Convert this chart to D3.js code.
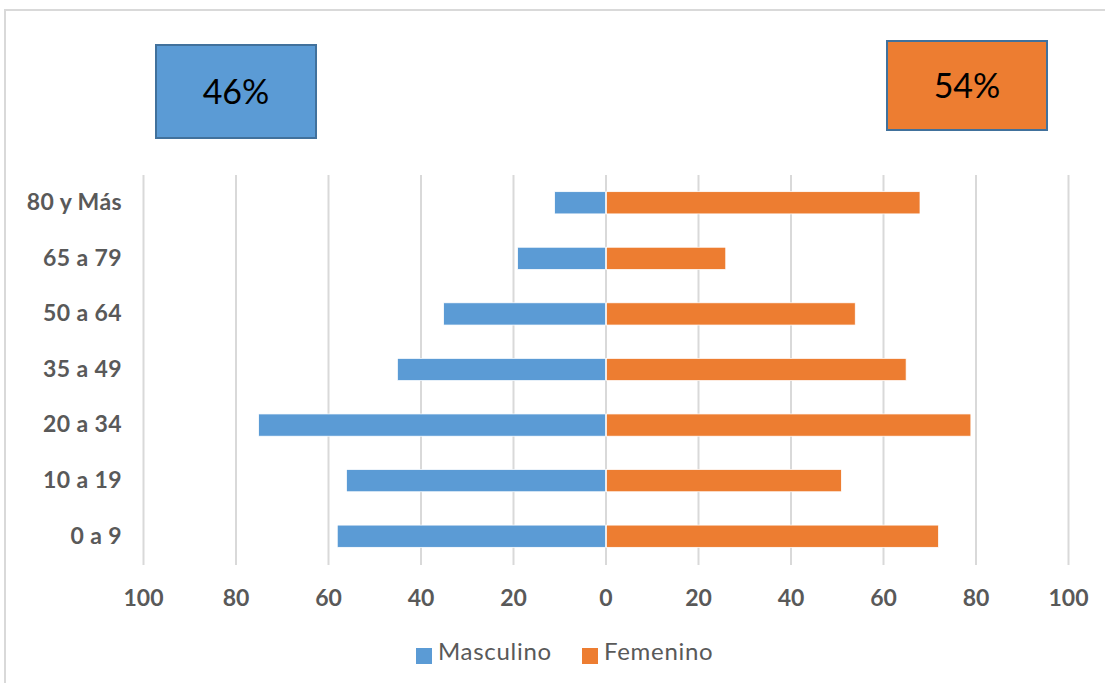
<!DOCTYPE html>
<html>
<head>
<meta charset="utf-8">
<script src="https://cdn.jsdelivr.net/npm/d3@7"></script>
<style>
  html, body { margin: 0; padding: 0; background: #fff; }
  svg { display: block; }
</style>
</head>
<body>
<svg id="chart" width="1105" height="683"></svg>
<script>
const categories = ["80 y Más", "65 a 79", "50 a 64", "35 a 49", "20 a 34", "10 a 19", "0 a 9"];
const masculino = [11, 19, 35, 45, 75, 56, 58];
const femenino  = [68, 26, 54, 65, 79, 51, 72];
const tickValues = [-100, -80, -60, -40, -20, 0, 20, 40, 60, 80, 100];
const seriesNames = ["Masculino", "Femenino"];
const shareLabels = ["46%", "54%"];

const BLUE = "#5b9bd5", ORANGE = "#ed7d31", BORDER = "#41719c";
const FONT = "Lato, 'Open Sans', sans-serif";

const svg = d3.select("#chart");

// outer frame (top and left edges)
svg.append("line").attr("x1", 4).attr("x2", 1105).attr("y1", 10).attr("y2", 10)
  .attr("stroke", "#d9d9d9").attr("stroke-width", 2);
svg.append("line").attr("x1", 5).attr("x2", 5).attr("y1", 9).attr("y2", 683)
  .attr("stroke", "#d9d9d9").attr("stroke-width", 2);

const plot = { left: 143, right: 1068, top: 175, bottom: 564 };

const x = d3.scaleLinear().domain([-100, 100]).range([plot.left, plot.right]);
const y = d3.scaleBand().domain(categories).range([plot.top, plot.bottom]).paddingInner(0.6).paddingOuter(0.3);

// gridlines
svg.append("g")
  .attr("transform", `translate(0,${plot.bottom + 1})`)
  .call(d3.axisBottom(x).tickValues(tickValues).tickSize(-(plot.bottom - plot.top + 1)).tickFormat(""))
  .call(g => g.select(".domain").remove())
  .call(g => g.selectAll("line").attr("stroke", "#d9d9d9").attr("stroke-width", 2));

// tick labels
svg.append("g")
  .attr("transform", `translate(0,${plot.bottom})`)
  .call(d3.axisBottom(x).tickValues(tickValues).tickSize(0).tickPadding(26).tickFormat(d => Math.abs(d)))
  .call(g => g.select(".domain").remove())
  .call(g => g.selectAll("text")
    .attr("fill", "#595959").attr("font-family", FONT).attr("font-weight", "bold").attr("font-size", 23));

// category labels
svg.append("g")
  .attr("transform", `translate(122,0)`)
  .call(d3.axisLeft(y).tickSize(0).tickPadding(0))
  .call(g => g.select(".domain").remove())
  .call(g => g.selectAll("text")
    .attr("fill", "#595959").attr("font-family", FONT).attr("font-weight", "bold").attr("font-size", 23)
    .attr("letter-spacing", 0.4));

// bars
svg.append("g").selectAll("rect").data(categories).join("rect")
  .attr("x", (d, i) => x(-masculino[i]))
  .attr("width", (d, i) => x(0) - x(-masculino[i]))
  .attr("y", d => y(d)).attr("height", y.bandwidth())
  .attr("fill", BLUE).attr("stroke", "#fff").attr("stroke-width", 0.75);

svg.append("g").selectAll("rect").data(categories).join("rect")
  .attr("x", x(0) + 1)
  .attr("width", (d, i) => x(femenino[i]) - x(0) - 1)
  .attr("y", d => y(d)).attr("height", y.bandwidth())
  .attr("fill", ORANGE).attr("stroke", "#fff").attr("stroke-width", 0.75);

// share boxes
const boxes = [
  { x: 156, y: 45, w: 160, h: 93, fill: BLUE, label: shareLabels[0] },
  { x: 887, y: 41, w: 160, h: 89, fill: ORANGE, label: shareLabels[1] }
];
const bg = svg.append("g").selectAll("g").data(boxes).join("g");
bg.append("rect").attr("x", d => d.x).attr("y", d => d.y).attr("width", d => d.w).attr("height", d => d.h)
  .attr("fill", d => d.fill).attr("stroke", BORDER).attr("stroke-width", 2);
bg.append("text").attr("x", d => d.x + d.w / 2).attr("y", d => d.y + d.h / 2 + 12)
  .attr("text-anchor", "middle").attr("font-family", FONT).attr("font-size", 34).attr("fill", "#000")
  .text(d => d.label);

// legend
const legend = svg.append("g");
const legendItems = [
  { x: 416, name: seriesNames[0], color: BLUE },
  { x: 582, name: seriesNames[1], color: ORANGE }
];
const li = legend.selectAll("g").data(legendItems).join("g");
li.append("rect").attr("x", d => d.x).attr("y", 648).attr("width", 16).attr("height", 16).attr("fill", d => d.color);
li.append("text").attr("x", d => d.x + 22).attr("y", 660).attr("font-family", FONT).attr("font-size", 24)
  .attr("letter-spacing", 0.7).attr("fill", "#595959").text(d => d.name);
</script>
</body>
</html>
